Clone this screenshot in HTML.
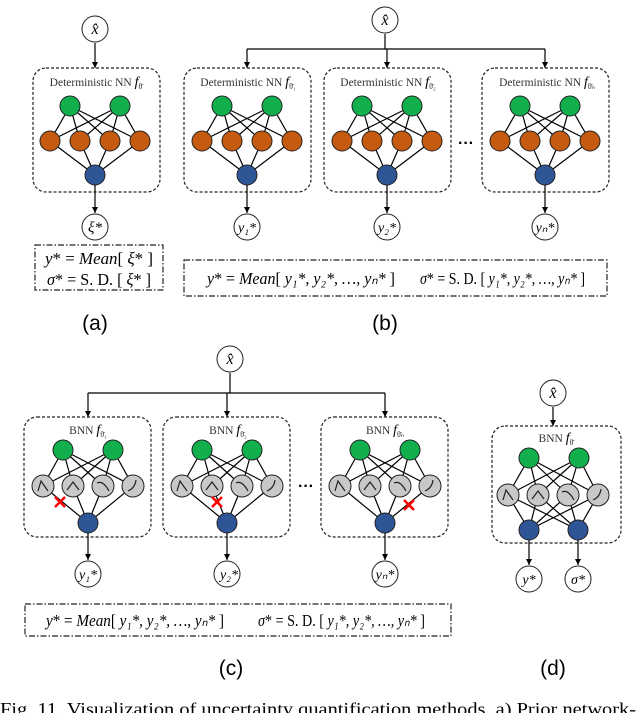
<!DOCTYPE html>
<html><head><meta charset="utf-8"><style>
body{margin:0;background:#fff}
svg{display:block}
.t{font-family:"Liberation Serif",serif;fill:#333}
.m{font-family:"Liberation Serif",serif;font-style:italic;fill:#000}
.s{font-family:"Liberation Sans",sans-serif;fill:#000}
</style></head><body>
<svg id="s" width="640" height="713" viewBox="0 0 640 713" xmlns="http://www.w3.org/2000/svg">
<defs><marker id="ar" markerWidth="6" markerHeight="6" refX="5" refY="3" orient="auto"><path d="M0,0.5L5,3L0,5.5z" fill="#000"/></marker></defs>
<g id="g"></g>
<g class="m" font-size="16" text-anchor="middle">
<text x="95" y="34">x̂</text><text x="385" y="25">x̂</text><text x="230" y="364">x̂</text><text x="553" y="398">x̂</text>
<text x="95" y="232" font-size="15">ξ*</text>
<text x="247" y="232" font-size="14">y₁*</text><text x="387" y="232" font-size="14">y₂*</text><text x="545" y="232" font-size="14">yₙ*</text>
<text x="88" y="579" font-size="14">y₁*</text><text x="229" y="579" font-size="14">y₂*</text><text x="385" y="579" font-size="14">yₙ*</text>
<text x="529" y="584" font-size="14">y*</text><text x="578" y="584" font-size="14">σ*</text>
</g>
<g class="t" font-size="11.5" text-anchor="middle">
<text x="96" y="86">Deterministic NN <tspan class="m" font-size="14">f</tspan><tspan font-size="8" dy="3">θ̄</tspan></text>
<text x="248" y="86">Deterministic NN <tspan class="m" font-size="14">f</tspan><tspan font-size="8" dy="3">θ̄₁</tspan></text>
<text x="388" y="86">Deterministic NN <tspan class="m" font-size="14">f</tspan><tspan font-size="8" dy="3">θ̄₂</tspan></text>
<text x="547" y="86">Deterministic NN <tspan class="m" font-size="14">f</tspan><tspan font-size="8" dy="3">θ̄ₙ</tspan></text>
<text x="88" y="434">BNN <tspan class="m" font-size="14">f</tspan><tspan font-size="8" dy="3">θ̄₁</tspan></text>
<text x="228" y="434">BNN <tspan class="m" font-size="14">f</tspan><tspan font-size="8" dy="3">θ̄₂</tspan></text>
<text x="385" y="434">BNN <tspan class="m" font-size="14">f</tspan><tspan font-size="8" dy="3">θ̄ₙ</tspan></text>
<text x="556" y="442">BNN <tspan class="m" font-size="14">f</tspan><tspan font-size="8" dy="3">θ̄</tspan></text>
</g>
<g font-size="17" font-family="Liberation Serif,serif">
<text x="45" y="264" textLength="108" lengthAdjust="spacingAndGlyphs"><tspan font-style="italic">y</tspan>* = <tspan font-style="italic">Mean</tspan>[ <tspan font-style="italic">ξ</tspan>* ]</text>
<text x="47" y="285" textLength="104" lengthAdjust="spacingAndGlyphs"><tspan font-style="italic">σ</tspan>* = S. D. [ <tspan font-style="italic">ξ</tspan>* ]</text>
<text x="207" y="284" textLength="188" lengthAdjust="spacingAndGlyphs"><tspan font-style="italic">y</tspan>* = <tspan font-style="italic">Mean</tspan>[ <tspan font-style="italic">y₁*, y₂*, …, yₙ*</tspan> ]</text>
<text x="420" y="284" textLength="165" lengthAdjust="spacingAndGlyphs"><tspan font-style="italic">σ</tspan>* = S. D. [ <tspan font-style="italic">y₁*, y₂*, …, yₙ*</tspan> ]</text>
<text x="46" y="626" textLength="178" lengthAdjust="spacingAndGlyphs"><tspan font-style="italic">y</tspan>* = <tspan font-style="italic">Mean</tspan>[ <tspan font-style="italic">y₁*, y₂*, …, yₙ*</tspan> ]</text>
<text x="258" y="626" textLength="167" lengthAdjust="spacingAndGlyphs"><tspan font-style="italic">σ</tspan>* = S. D. [ <tspan font-style="italic">y₁*, y₂*, …, yₙ*</tspan> ]</text>
</g>
<g class="s" font-size="21" text-anchor="middle">
<text x="95" y="330">(a)</text><text x="385" y="330">(b)</text><text x="231" y="675">(c)</text><text x="553" y="675">(d)</text>
</g>
<g font-size="16" font-weight="bold" class="s"><text x="458" y="148">···</text><text x="298" y="491">···</text></g>
<text x="0" y="715" font-family="Liberation Serif,serif" font-size="18" fill="#000" textLength="636" lengthAdjust="spacingAndGlyphs">Fig. 11.  Visualization of uncertainty quantification methods. a) Prior network-</text>
</svg>
<script>
var g=document.getElementById('g'),h='';
function L(a,b,c,d,ex){h+='<line x1="'+a+'" y1="'+b+'" x2="'+c+'" y2="'+d+'" stroke="#000" stroke-width="1.2" '+(ex||'')+'/>';}
function C(x,y,r,f){h+='<circle cx="'+x+'" cy="'+y+'" r="'+r+'" fill="'+f+'" stroke="#222" stroke-width="1"/>';}
function box(x,y,w,hh){h+='<rect x="'+x+'" y="'+y+'" width="'+w+'" height="'+hh+'" rx="13" fill="none" stroke="#222" stroke-width="1.2" stroke-dasharray="3,2"/>';}
function dd(x,y,w,hh){h+='<rect x="'+x+'" y="'+y+'" width="'+w+'" height="'+hh+'" fill="none" stroke="#222" stroke-width="1.2" stroke-dasharray="6,2,1.5,2"/>';}
function A(x,y1,y2){L(x,y1,x,y2,'marker-end="url(#ar)"');}
function net(cx,gy,my,by,gray,blues,dx,mxs){
 var gs=[cx-25,cx+25],ms=mxs||[cx-45,cx-15,cx+15,cx+45];
 gs.forEach(function(a){ms.forEach(function(b){L(a,gy,b,my);});});
 ms.forEach(function(b){blues.forEach(function(c){L(b,my,c,by);});});
 gs.forEach(function(a){C(a,gy,10,'#11b04c');});
 ms.forEach(function(b,i){C(b,my,gray?11:10,gray?'#c8c8c8':'#c55a11');
  if(gray){var p=[['M-5,5L-2,-5L5,5'],['M-6,4L0,-4L6,4'],['M-6,-3Q0,-6 6,5'],['M-5,5Q2,2 3,-6']][i%4];
   h+='<path transform="translate('+b+','+my+')" d="'+p+'" fill="none" stroke="#222" stroke-width="1.2"/>';}});
 blues.forEach(function(c){C(c,by,10,'#2e5596');});
 if(dx){h+='<g stroke="#f00" stroke-width="2.5"><line x1="'+(dx[0]-5)+'" y1="'+(dx[1]-5)+'" x2="'+(dx[0]+5)+'" y2="'+(dx[1]+5)+'"/><line x1="'+(dx[0]+5)+'" y1="'+(dx[1]-5)+'" x2="'+(dx[0]-5)+'" y2="'+(dx[1]+5)+'"/></g>';}
}
A(95,43,68);box(33,68,127,124);net(95,106,141,175,false,[95]);A(95,185,213);
dd(35,245,128,45);
L(385,34,385,49);L(247,49,545,49);
[247,387,545].forEach(function(c){A(c,49,68);box(c-63,68,127,124);net(c,106,141,175,false,[c]);A(c,185,213);C(c,227,13,'none');});
dd(184,260,423,36);
L(230,373,230,393);L(88,393,385,393);
[[88,[60,502]],[227,[217,502]],[385,[409,505]]].forEach(function(o){var c=o[0];A(c,393,417);box(c-64,417,127,120);net(c,450,486,523,true,[c],o[1]);A(c,533,560);C(c,574,13,'none');});
dd(25,604,426,32);
A(553,407,426);box(492,426,129,117);net(554,458,495,530,true,[529,578],null,[508,538,568,598]);
A(529,540,565);A(578,540,565);C(529,579,13,'none');C(578,579,13,'none');
C(95,29,13,'none');C(385,20,13,'none');C(230,359,13,'none');C(553,393,13,'none');C(95,227,13,'none');
g.innerHTML=h;
</script>
</body></html>
